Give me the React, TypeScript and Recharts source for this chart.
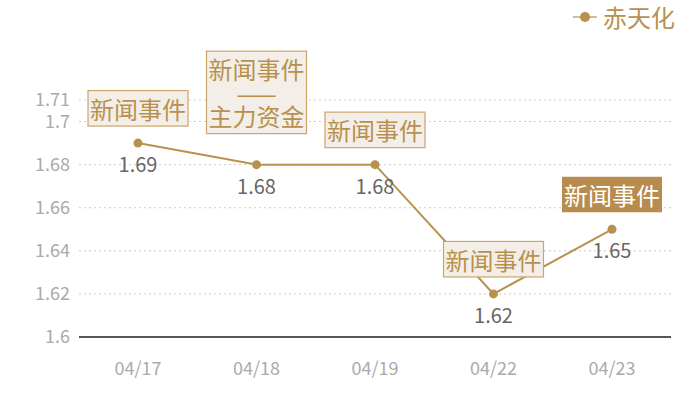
import React from "react";
import {
  CartesianGrid,
  LabelList,
  Legend,
  Line,
  LineChart,
  XAxis,
  YAxis,
} from "recharts";

const DATES = ["04/17", "04/18", "04/19", "04/22", "04/23"];
const PRICES = [1.69, 1.68, 1.68, 1.62, 1.65];
const ANNOTATIONS = [
  ["新闻事件"],
  ["新闻事件", "——", "主力资金"],
  ["新闻事件"],
  ["新闻事件"],
  ["新闻事件"],
];
const HIGHLIGHT_INDEX = 4;
const Y_TICKS = [1.6, 1.62, 1.64, 1.66, 1.68, 1.7, 1.71];
const SERIES_NAME = "赤天化";

const GOLD = "#b8914f";
const FONT = '"Noto Sans CJK SC", "Noto Sans", sans-serif';

const data = DATES.map((date, i) => ({ date, value: PRICES[i], note: i }));

function AnnotationBox(props: any) {
  const { x, y, index } = props;
  const lines = ANNOTATIONS[index] || [];
  if (!lines.length) return null;
  const lineH = 23.5;
  const pad = 6;
  const w = 100;
  const h = pad * 2 + lines.length * lineH;
  const gap = lines.length > 1 ? 31 : 17;
  const top = y - gap - h;
  const hl = index === HIGHLIGHT_INDEX;
  return (
    <g>
      <rect
        x={x - w / 2}
        y={top}
        width={w}
        height={h}
        fill={hl ? "#b88c4f" : "#f3efe8"}
        stroke={hl ? "none" : "#c9a66c"}
        strokeWidth={1.2}
      />
      {lines.map((t: string, k: number) => (
        <text
          key={k}
          x={x}
          y={top + pad + lineH * k + lineH / 2}
          textAnchor="middle"
          dominantBaseline="central"
          fontSize={24}
          fontFamily={FONT}
          fill={hl ? "#ffffff" : GOLD}
        >
          {t}
        </text>
      ))}
    </g>
  );
}

function SeriesLegend() {
  return (
    <div
      style={{
        height: 34,
        display: "flex",
        alignItems: "center",
        justifyContent: "flex-end",
        fontFamily: FONT,
      }}
    >
      <svg width={26} height={12} style={{ marginRight: 4 }}>
        <line x1={0} y1={6} x2={24} y2={6} stroke="#d6bc92" strokeWidth={2} />
        <circle cx={12} cy={6} r={5} fill={GOLD} />
      </svg>
      <span style={{ fontSize: 24, color: GOLD, lineHeight: "34px" }}>
        {SERIES_NAME}
      </span>
    </div>
  );
}

export default function App() {
  return (
    <div style={{ position: "absolute", left: 0, top: 0, width: 700, height: 400, background: "#fff" }}>
      <LineChart
        width={700}
        height={400}
        data={data}
        margin={{ top: 66, right: 29, bottom: 23, left: 0 }}
        style={{ fontFamily: FONT }}
      >
        <CartesianGrid vertical={false} stroke="#cccccc" strokeDasharray="2 3" />
        <XAxis
          dataKey="date"
          padding={{ left: 59, right: 59 }}
          axisLine={{ stroke: "#222222", strokeWidth: 1.3 }}
          tickLine={false}
          tickSize={0}
          tickMargin={25}
          height={40}
          tick={{ fill: "#aaaaaa", fontSize: 18 }}
        />
        <YAxis
          domain={[1.6, 1.71]}
          ticks={Y_TICKS}
          interval={0}
          width={79}
          axisLine={false}
          tickLine={false}
          tickSize={0}
          tickMargin={9}
          tick={{ fill: "#aaaaaa", fontSize: 18 }}
        />
        <Legend
          verticalAlign="top"
          align="right"
          content={() => <SeriesLegend />}
          wrapperStyle={{ top: 0, right: 25, left: "auto", width: "auto" }}
        />
        <Line
          type="linear"
          dataKey="value"
          name={SERIES_NAME}
          stroke={GOLD}
          strokeWidth={2}
          dot={{ r: 4.5, fill: GOLD, stroke: "none" }}
          activeDot={false}
          isAnimationActive={false}
        >
          <LabelList
            dataKey="value"
            position="bottom"
            offset={15}
            fill="#666666"
            fontSize={20}
            fontFamily={FONT}
          />
          <LabelList dataKey="note" content={(p: any) => <AnnotationBox {...p} />} />
        </Line>
      </LineChart>
    </div>
  );
}
